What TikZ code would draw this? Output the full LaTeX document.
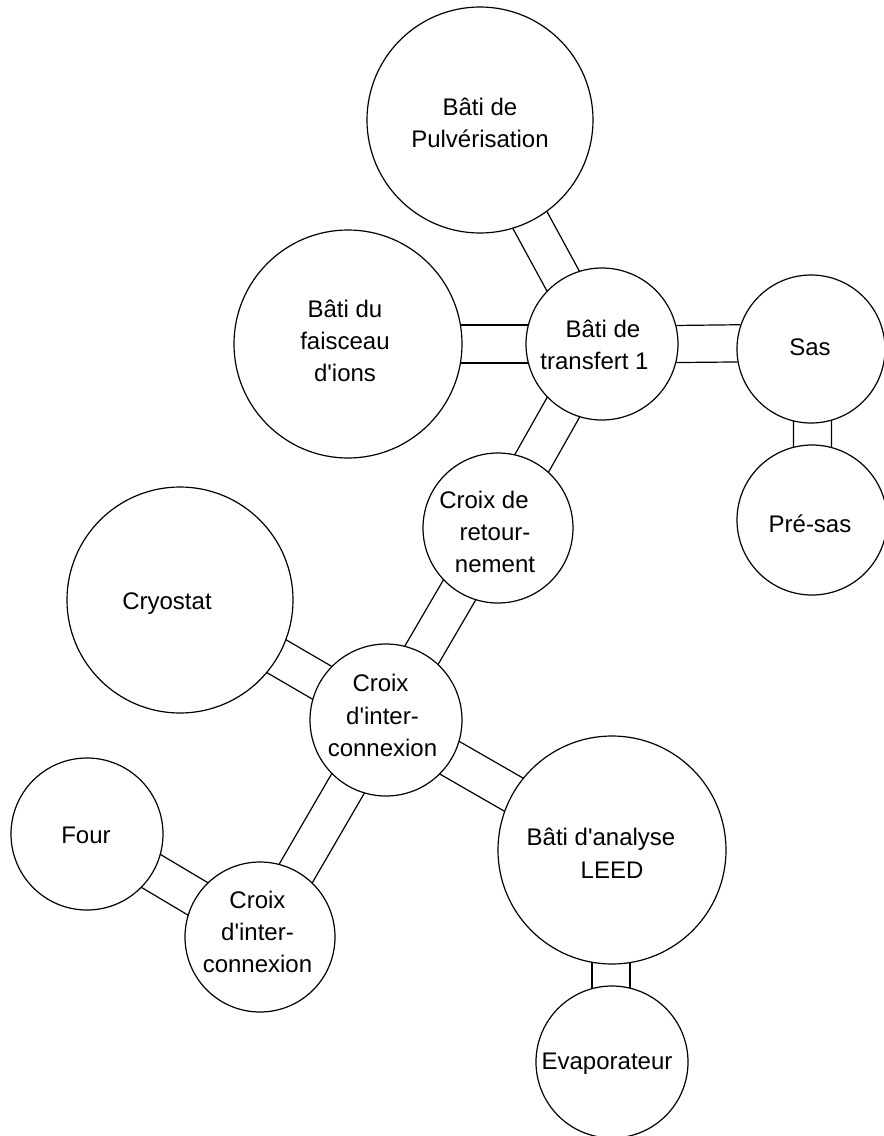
\documentclass[tikz,border=0pt]{standalone}
\usepackage{fontspec}
\setmainfont{Liberation Sans}
\usetikzlibrary{calc}

% straight apostrophe, bypassing the tex-text quote mapping
\newcommand\apo{\XeTeXglyph\XeTeXcharglyph"27\relax}

% half spacing between the two walls of a connecting tube
\def\gap{19}

% tube between two chambers: [#1] sideways shift of the tube axis,
% #2 node, #3 its radius, #4 node, #5 its radius
\newcommand\tube[5][0]{%
  \foreach \s in {1,-1}{%
    \pgfmathsetmacro\o{\s*\gap+(#1)}%
    \pgfmathsetmacro\da{sqrt((#3)^2-(\o)^2)}%
    \pgfmathsetmacro\db{sqrt((#5)^2-(\o)^2)}%
    \draw[wall] ($ ($(#2)!\da pt!(#4)$)!\o pt!90:(#4) $)
             -- ($ ($(#4)!\db pt!(#2)$)!\o pt!-90:(#2) $);
  }%
}

\begin{document}
\begin{tikzpicture}[x=1pt,y=-1pt,
  chamber/.style={circle,draw,line width=1.2pt,inner sep=0pt,minimum size=#1},
  wall/.style={line width=1.2pt},
  lbl/.style={align=center,font=\fontsize{24}{32.3}\selectfont,inner sep=0pt},
]
\fill[white] (0,0) rectangle (884,1136);
\useasboundingbox (0,0) rectangle (884,1136);

% chambers
\node[chamber=226pt] (pulv)   at (480,120)  {};
\node[chamber=228pt] (ions)   at (348,344)  {};
\node[chamber=152pt] (trans)  at (602,344)  {};
\node[chamber=148pt] (sas)    at (811,349)  {};
\node[chamber=150pt] (presas) at (812,520)  {};
\node[chamber=150pt] (retour) at (498,528)  {};
\node[chamber=226pt] (cryo)   at (180,600)  {};
\node[chamber=152pt] (croixA) at (386,720)  {};
\node[chamber=152pt] (four)   at (87,834)   {};
\node[chamber=150pt] (croixB) at (260,937)  {};
\node[chamber=228pt] (leed)   at (612,850)  {};
\node[chamber=152pt] (evap)   at (612,1062) {};

% chamber names
\node[lbl] (pulv-t)   at (480,122.7)  {B\^ati de\\Pulv\'erisation};
\node[lbl] (ions-t)   at (345,340.8)  {B\^ati du\\faisceau\\d\apo ions};
\node[lbl] (trans-t)  at (603,344.9)  {B\^ati de\\transfert 1\hspace*{17pt}};
\node[lbl] (sas-t)    at (810,347.6)  {Sas};
\node[lbl] (presas-t) at (810,523.3)  {Pr\'e-sas};
\node[lbl] (retour-t) at (495,532)    {Croix de\hspace*{22pt}\\retour-\hspace*{20pt}\\nement};
\node[lbl] (cryo-t)   at (167,604)    {Cryostat};
\node[lbl] (croixA-t) at (382.5,715.5){Croix\hspace*{4pt}\\d\apo inter-\hspace*{10pt}\\connexion};
\node[lbl] (four-t)   at (86,835.6)   {Four};
\node[lbl] (croixB-t) at (257.5,931.9){Croix\\d\apo inter-\hspace*{13pt}\\connexion};
\node[lbl] (leed-t)   at (612,853.3)  {B\^ati d\apo analyse\hspace*{22pt}\\LEED};
\node[lbl] (evap-t)   at (607,1064)   {Evaporateur};

% connecting tubes
\tube[-4]{pulv}{113}{trans}{76}
\tube{ions}{114}{trans}{76}
\draw[wall] (trans.14.36)  -- (sas.161.23);
\draw[wall] (trans.-14.36) -- (sas.190.82);
\tube[1]{sas}{74}{presas}{75}
\tube[-2.5]{trans}{76}{retour}{75}
\tube[-2]{retour}{75}{croixA}{76}
\tube{cryo}{113}{croixA}{76}
\tube[-1]{croixA}{76}{leed}{114}
\tube[-1]{croixA}{76}{croixB}{75}
\tube[1]{four}{76}{croixB}{75}
\tube[-1]{leed}{114}{evap}{76}
\end{tikzpicture}
\end{document}
